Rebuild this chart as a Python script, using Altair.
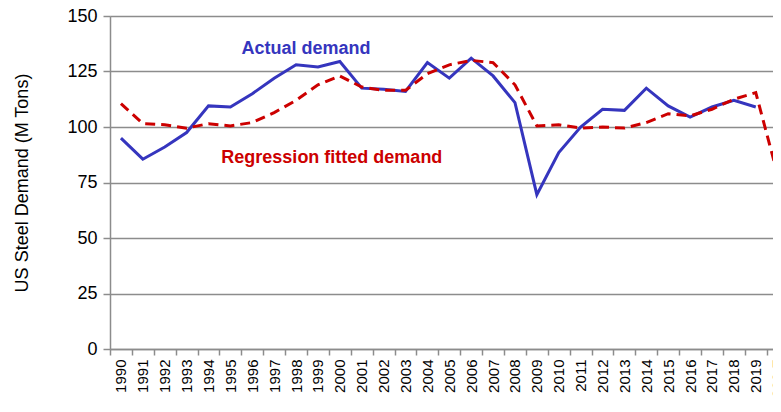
import altair as alt
import pandas as pd

years = [str(y) for y in range(1990, 2020)] + ["2020 F"]
actual = [95, 85.5, 91, 97.5, 109.5, 109, 115, 122, 128, 127,
          129.5, 117.5, 117, 116, 129, 122, 131, 123, 111, 69.5,
          88.5, 100, 108, 107.5, 117.5, 109.5, 104.5, 109, 112, 109, None]
fitted = [110.5, 101.5, 101, 99.5, 101.5, 100.5, 102, 106.5, 112, 119,
          123, 118, 116.5, 116.5, 124, 128, 130, 129, 119, 100.5,
          101, 99.5, 100, 99.5, 102, 106, 105, 108, 112.5, 115.5, 78.5]
y_ticks = [0, 25, 50, 75, 100, 125, 150]

ann_text = ["Actual demand", "Regression fitted demand"]
ann_year = ["1998", "2000"]
ann_value = [133, 84]

df_a = pd.DataFrame({"year": years, "value": actual})
df_f = pd.DataFrame({"year": years, "value": fitted})
df_ann_a = pd.DataFrame({"year": [ann_year[0]], "value": [ann_value[0]], "text": [ann_text[0]]})
df_ann_f = pd.DataFrame({"year": [ann_year[1]], "value": [ann_value[1]], "text": [ann_text[1]]})

BLUE = "#3535BE"
RED = "#CC0000"
GRID = "#8C8C8C"
FONT = "Liberation Sans"

x_enc = alt.X(
    "year:N",
    sort=years,
    bandPosition=0.5,
    scale=alt.Scale(type="band", paddingInner=0, paddingOuter=0, range=[0, 678.6]),
    axis=alt.Axis(
        title=None,
        labelAngle=-90,
        labelFontSize=15,
        labelFont=FONT,
        labelColor="black",
        labelPadding=4,
        tickBand="extent",
        tickSize=6,
        tickColor=GRID,
        tickWidth=1.5,
        domainColor=GRID,
        domainWidth=1.5,
        grid=False,
    ),
)
y_enc = alt.Y(
    "value:Q",
    scale=alt.Scale(domain=[0, 150], nice=False, zero=True),
    axis=alt.Axis(
        title="US Steel Demand (M Tons)",
        titleFont=FONT,
        titleFontSize=18,
        titleFontWeight="normal",
        titleColor="black",
        titlePadding=35,
        values=y_ticks,
        labelFontSize=18,
        labelFont=FONT,
        labelColor="black",
        labelPadding=6,
        tickSize=7,
        tickColor=GRID,
        tickWidth=1.5,
        domainColor=GRID,
        domainWidth=1.5,
        grid=True,
        gridColor=GRID,
        gridWidth=1.5,
    ),
)

line_a = alt.Chart(df_a).mark_line(color=BLUE, strokeWidth=3).encode(x=x_enc, y=y_enc)
line_f = alt.Chart(df_f).mark_line(color=RED, strokeWidth=3, strokeDash=[10, 6]).encode(x=x_enc, y=y_enc)

txt_a = alt.Chart(df_ann_a).mark_text(
    color=BLUE, font=FONT, fontSize=18, fontWeight="bold", align="center", baseline="alphabetic", dx=10
).encode(x=alt.X("year:N", sort=years, bandPosition=0.5), y="value:Q", text="text:N")
txt_f = alt.Chart(df_ann_f).mark_text(
    color=RED, font=FONT, fontSize=18, fontWeight="bold", align="center", baseline="alphabetic", dx=-8
).encode(x=alt.X("year:N", sort=years, bandPosition=0.5), y="value:Q", text="text:N")

chart = (
    alt.layer(line_a, line_f, txt_a, txt_f)
    .properties(
        width=663,
        height=333,
        autosize=alt.AutoSizeParams(type="none"),
        padding={"left": 102, "top": 8, "right": 0, "bottom": 51},
    )
    .configure_view(stroke=None)
    .configure(background="white")
)

chart.save("out.html", embed_options={"renderer": "svg", "actions": False})
